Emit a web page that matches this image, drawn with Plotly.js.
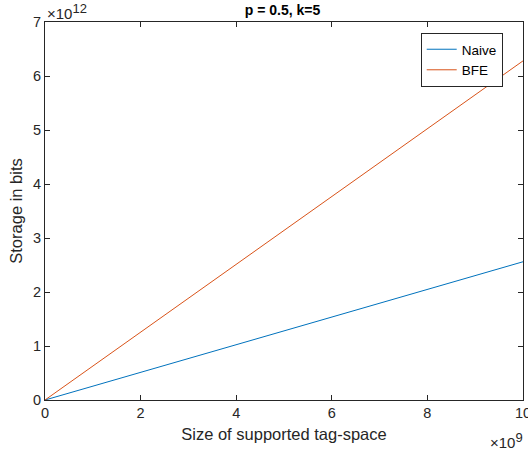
<!DOCTYPE html>
<html>
<head>
<meta charset="utf-8">
<script src="https://cdn.plot.ly/plotly-3.0.1.min.js"></script>
<style>html,body{margin:0;padding:0;background:#fff;}#chart{width:528px;height:453px;}</style>
</head>
<body>
<div id="chart"></div>
<script>
// Data
const tagSpace = [0, 1e10];          // size of supported tag-space
const naiveBits = [0, 2.56e12];      // Naive storage in bits
const bfeBits = [0, 6.28e12];        // BFE storage in bits
const xTicks = [0, 2, 4, 6, 8, 10];
const yTicks = [0, 1, 2, 3, 4, 5, 6, 7];
const xExp = 9, yExp = 12;

const xs = tagSpace.map(v => v / Math.pow(10, xExp));
const axisColor = '#262626';
const font = 'Liberation Sans, Arial, Helvetica, sans-serif';

const traces = [
  {x: xs, y: naiveBits.map(v => v / Math.pow(10, yExp)), name: 'Naive', mode: 'lines',
   line: {color: '#0072BD', width: 1}},
  {x: xs, y: bfeBits.map(v => v / Math.pow(10, yExp)), name: 'BFE', mode: 'lines',
   line: {color: '#D95319', width: 1}}
];

const axisCommon = {
  showgrid: false, zeroline: false, showline: true, mirror: 'ticks',
  linecolor: axisColor, linewidth: 1, ticks: 'inside', ticklen: 5, tickcolor: axisColor,
  tickfont: {family: font, size: 14.5, color: axisColor}, ticklabeloverflow: 'allow'
};

const layout = {
  width: 528, height: 453,
  margin: {l: 45, r: 5, t: 22, b: 53},
  paper_bgcolor: '#fff', plot_bgcolor: '#fff',
  showlegend: true,
  title: {text: '<b>p = 0.5, k=5</b>', font: {family: font, size: 14, color: '#000'},
          x: 0.535, xanchor: 'center', y: 0.978, yanchor: 'middle'},
  xaxis: Object.assign({}, axisCommon, {
    range: [0, 10], tickvals: xTicks, ticktext: xTicks.map(String),
    title: {text: 'Size of supported tag-space', font: {family: font, size: 16.5, color: axisColor}, standoff: 8}
  }),
  yaxis: Object.assign({}, axisCommon, {
    range: [0, 7], tickvals: yTicks, ticktext: yTicks.map(String),
    title: {text: 'Storage in bits', font: {family: font, size: 16.5, color: axisColor}, standoff: 6}
  }),
  legend: {x: 0.786, y: 0.971, xanchor: 'left', yanchor: 'top',
           bgcolor: '#fff', bordercolor: axisColor, borderwidth: 1,
           font: {family: font, size: 13.5, color: '#000'}, tracegroupgap: 0},
  annotations: [
    {xref: 'paper', yref: 'paper', x: 0, y: 1, xanchor: 'left', yanchor: 'bottom', yshift: -2,
     text: '×10<sup><span style="font-size:13px">' + yExp + '</span></sup>', showarrow: false,
     font: {family: font, size: 15, color: axisColor}},
    {xref: 'paper', yref: 'paper', x: 1, y: 0, xanchor: 'right', yanchor: 'top', yshift: -28, xshift: 2,
     text: '×10<sup><span style="font-size:13px">' + xExp + '</span></sup>', showarrow: false,
     font: {family: font, size: 15, color: axisColor}}
  ]
};

Plotly.newPlot('chart', traces, layout, {displayModeBar: false, staticPlot: true});
</script>
</body>
</html>
